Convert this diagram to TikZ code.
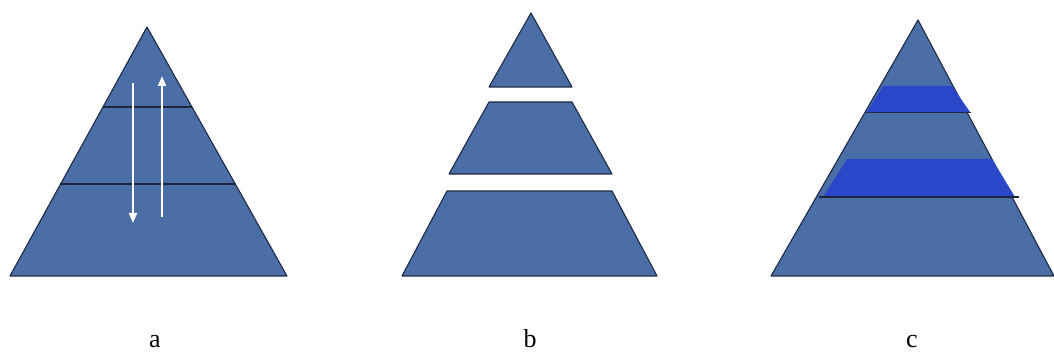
\documentclass[tikz,border=0pt]{standalone}
\usepackage{fontspec}
\setmainfont{Liberation Serif}
\usetikzlibrary{arrows.meta}
\definecolor{pyr}{HTML}{4A6EA5}
\definecolor{band}{HTML}{2A47C9}
\definecolor{edge}{HTML}{1E2A44}
\tikzset{
  layer/.style={fill=pyr, draw=edge, line width=1.1pt, line join=round},
  sep/.style={draw=edge!90!black, line width=1.4pt},
  bandstyle/.style={fill=band, draw=none},
  flow/.style={draw=white, line width=2pt, -{Triangle[width=8pt,length=10pt]}},
  lbl/.style={font=\fontsize{26}{30}\selectfont, anchor=base, inner sep=0pt}
}
\begin{document}
\begin{tikzpicture}[x=1pt,y=-1pt]
\useasboundingbox (0,0) rectangle (1054,352);
% ---- a ----
\path[layer] (147,27) -- (287,276) -- (10,276) -- cycle;
\coordinate (a1l) at (103,107); \coordinate (a1r) at (192,107);
\coordinate (a2l) at (60,184);  \coordinate (a2r) at (235,184);
\draw[sep] (a1l) -- (a1r);
\draw[sep] (a2l) -- (a2r);
\coordinate (dtop) at (133,83);  \coordinate (dbot) at (133,223);
\coordinate (ubot) at (162,217); \coordinate (utop) at (162,76);
\draw[flow] (dtop) -- (dbot);
\draw[flow] (ubot) -- (utop);
\node[lbl] (la) at (155,347) {a};
% ---- b ----
\path[layer] (531,13) -- (572,87) -- (489,87) -- cycle;
\path[layer] (489,102) -- (572,102) -- (612,174) -- (449,174) -- cycle;
\path[layer] (447,191) -- (612,191) -- (657,276) -- (402,276) -- cycle;
\node[lbl] (lb) at (530,347) {b};
% ---- c ----
\path[layer] (918,20) -- (1054,276) -- (771,276) -- cycle;
\path[bandstyle] (883,86) -- (952,86) -- (970,112) -- (867,112) -- cycle;
\path[bandstyle] (847,159) -- (992,159) -- (1015,197) -- (823,197) -- cycle;
\coordinate (c1l) at (866,112); \coordinate (c1r) at (971,112);
\coordinate (c2l) at (819,197); \coordinate (c2r) at (1019,197);
\draw[draw=edge, line width=0.7pt] (c1l) -- (c1r);
\draw[sep, line width=1.8pt] (c2l) -- (c2r);
\node[lbl] (lc) at (912,347) {c};
\end{tikzpicture}
\end{document}
